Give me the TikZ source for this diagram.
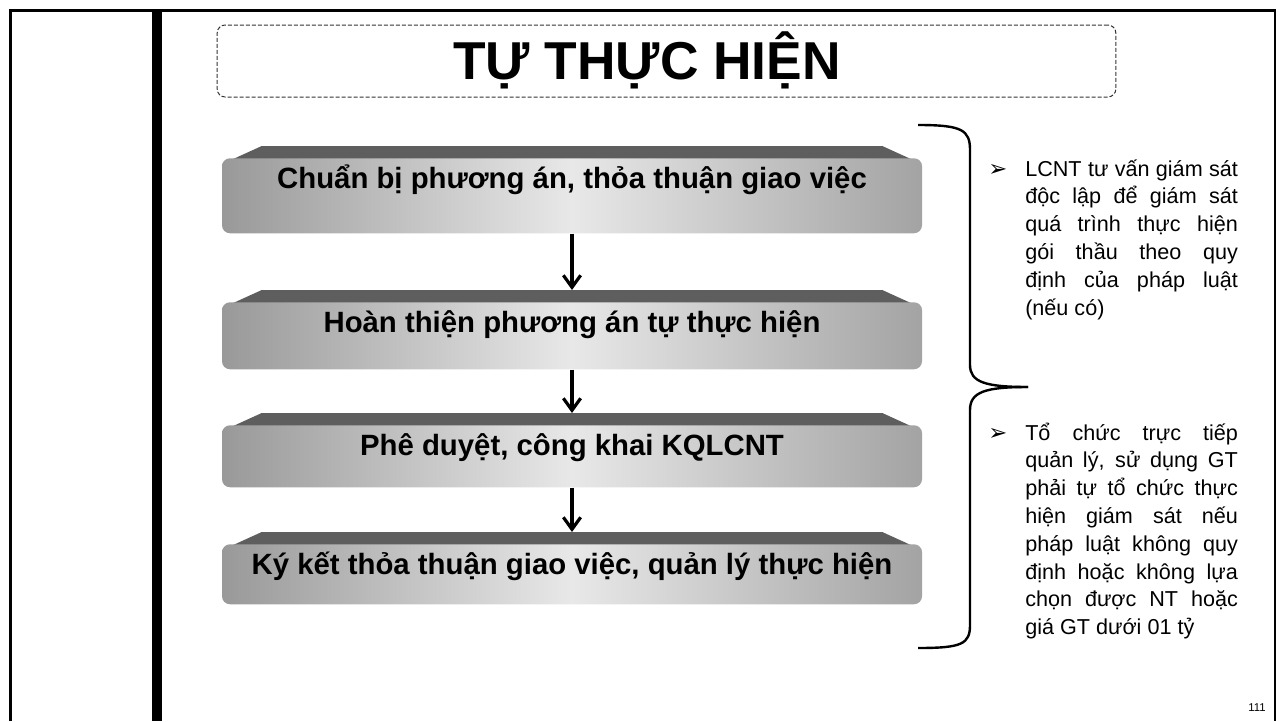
\documentclass[tikz,border=0pt]{standalone}
\usepackage{fontspec}
\setmainfont{Liberation Sans}
\newfontfamily\dingfont{DejaVu Sans}
\usetikzlibrary{arrows.meta,positioning,calc,backgrounds}
\hyphenpenalty=10000

\begin{document}
\begin{tikzpicture}[
    x=0.75pt, y=-0.75pt,
    stepbox/.style={anchor=north, rounded corners=6pt, minimum width=525pt, inner sep=0pt, text height=22.5pt,
        left color=black!40, right color=black!36, middle color=black!9, font=\fontsize{22}{26}\selectfont\bfseries},
    bevel/.style={fill=black!63},
    arr/.style={-{Straight Barb[length=9pt, width=13pt]}, line width=2.4pt, shorten >=9pt},
    note/.style={anchor=base west, inner sep=0pt, text width=159.5pt, align=justify, font=\fontsize{16.2}{20.85}\selectfont},
    bulletmark/.style={anchor=base west, inner sep=0pt, font=\dingfont\bfseries\fontsize{17}{19}\selectfont},
    brace/.style={line width=1.8pt},
]
% canvas
\useasboundingbox (0,0) rectangle (1284,721);

% slide frame and side bar
\draw[line width=1.9pt] (10.5,721) -- (10.5,10.5) -- (1275,10.5) -- (1275,721);
\fill (152,10) rectangle (162,721);

% title
\node[draw=black!80, dashed, dash pattern=on 3pt off 1.5pt, line width=0.75pt, rounded corners=6pt,
      minimum width=674pt, minimum height=54pt] (titlebox) at (666.5,61) {};
\node[anchor=base, inner sep=0pt, font=\fontsize{40}{44}\selectfont\bfseries] (title) at (647,79) {TỰ THỰC HIỆN};

% steps
\node[stepbox, text depth=33.75pt] (s1) at (572,158) {Chuẩn bị phương án, thỏa thuận giao việc};
\node[stepbox, text depth=27.75pt] (s2) at (572,302) {Hoàn thiện phương án tự thực hiện};
\node[stepbox, text depth=24pt] (s3) at (572,425) {Phê duyệt, công khai KQLCNT};
\node[stepbox, text depth=22.5pt] (s4) at (572,544) {Ký kết thỏa thuận giao việc, quản lý thực hiện};

% top faces
\begin{scope}[on background layer]
\foreach \s in {s1,s2,s3,s4}
  \fill[bevel] ($(\s.north west)+(0.5,6)$) -- ($(\s.north west)+(40,-12)$)
    -- ($(\s.north east)+(-40,-12)$) -- ($(\s.north east)+(-0.5,6)$) -- cycle;
\end{scope}

% arrows
\draw[arr] (s1) -- (s2);
\draw[arr] (s2) -- (s3);
\draw[arr] (s3) -- (s4);

% brace
\draw[brace] (918,125) .. controls (962,125) and (970,130) .. (970,150) -- (970,365)
    .. controls (970,382) and (985,387) .. (1028,387);
\draw[brace] (1028,387) .. controls (985,387) and (970,392) .. (970,410) -- (970,625)
    .. controls (970,644) and (962,648) .. (918,648);

% notes
\node[bulletmark] (m1) at (988,176) {➢};
\node[note] (n1) at (1025,176) {LCNT tư vấn giám sát\linebreak
    độc lập để giám sát\linebreak quá trình thực hiện\linebreak
    gói thầu theo quy\linebreak định của pháp luật\linebreak (nếu có)};
\node[bulletmark] (m2) at (988,440) {➢};
\node[note] (n2) at (1025,440) {Tổ chức trực tiếp\linebreak
    quản lý, sử dụng GT\linebreak phải tự tổ chức thực\linebreak
    hiện giám sát nếu\linebreak pháp luật không quy\linebreak
    định hoặc không lựa\linebreak chọn được NT hoặc\linebreak giá GT dưới 01 tỷ};

% page number
\node[font=\fontsize{8.5}{10}\selectfont] (pagenum) at (1257,708) {111};
\end{tikzpicture}
\end{document}
